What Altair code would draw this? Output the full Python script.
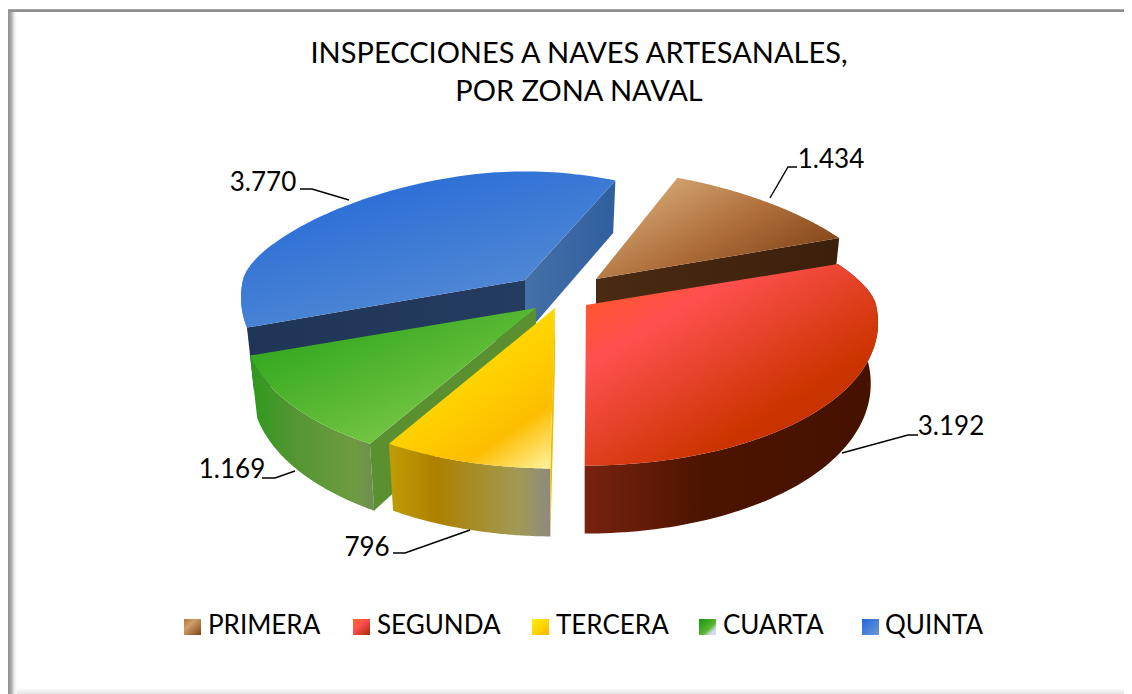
import math
import altair as alt

# ---- data
categories = ["PRIMERA", "SEGUNDA", "TERCERA", "CUARTA", "QUINTA"]
values = [1434, 3192, 796, 1169, 3770]
value_labels = ["1.434", "3.192", "796", "1.169", "3.770"]
title_lines = ["INSPECCIONES A NAVES ARTESANALES,", "POR ZONA NAVAL"]

# ---- layout (page pixels) and style, separate from the data
OX, OY = 8, 8
FONT = "Lato"
START_DEG = 22.9
apex = {"PRIMERA": (596, 279), "SEGUNDA": (586, 305), "TERCERA": (555, 308),
        "CUARTA": (536, 308), "QUINTA": (525, 280)}
radius_x = {"PRIMERA": 280, "SEGUNDA": 290, "TERCERA": 290, "CUARTA": 290, "QUINTA": 282}
RY = 150
# perspective correction of the angle close to some slice corners: (centre degree, shift, half width)
warps = {"PRIMERA": [(22.9, 3.5, 25)], "SEGUNDA": [(183.6, -3.4, 25)], "TERCERA": [(183.6, -2.8, 25)],
         "CUARTA": [], "QUINTA": [(382.9, 6.0, 60)]}
label_pos = {"PRIMERA": (831, 168), "SEGUNDA": (951, 435), "TERCERA": (367, 556),
             "CUARTA": (232, 478), "QUINTA": (263, 191)}
leaders = {"PRIMERA": [(770, 198), (788, 167), (797, 167)],
           "SEGUNDA": [(842, 453), (908, 435), (918, 435)],
           "TERCERA": [(470, 530), (405, 553), (393, 553)],
           "CUARTA": [(295, 471), (275, 478), (262, 478)],
           "QUINTA": [(349, 200), (312, 189), (300, 189)]}
legend_box = {"PRIMERA": 184, "SEGUNDA": 353, "TERCERA": 532, "CUARTA": 699, "QUINTA": 862}
legend_text = {"PRIMERA": 208, "SEGUNDA": 377, "TERCERA": 556, "CUARTA": 723, "QUINTA": 885}


def grad(stops, x1=0.0, y1=0.0, x2=1.0, y2=1.0):
    n = len(stops) - 1
    gs = []
    for i, s in enumerate(stops):
        off, col = s if isinstance(s, tuple) else (i / n, s)
        gs.append(alt.GradientStop(offset=off, color=col))
    return alt.LinearGradient(gradient="linear", stops=gs, x1=x1, y1=y1, x2=x2, y2=y2)


top_fill = {
    "PRIMERA": grad([(0, "#a8743f"), (0.22, "#cf9f6b"), (0.6, "#ad6c39"), (1, "#7f4116")], 0, 0, 1, 0.75),
    "SEGUNDA": grad([(0, "#ff5a1c"), (0.28, "#ff5050"), (0.72, "#cc3400"), (1, "#bb2e00")], 0, 0, 0.9, 1),
    "TERCERA": grad([(0, "#ffe600"), (0.45, "#ffd000"), (0.72, "#fdbd00"), (1, "#fff6a8")], 0.3, 0, 1, 1),
    "CUARTA": grad([(0, "#2ba51b"), (0.5, "#5bb934"), (1, "#90d055")], 0.1, 0.1, 0.9, 1),
    "QUINTA": grad([(0, "#2268d8"), (1, "#5c90d2")], 0.15, 0, 0.8, 1),
}
wall_fill = {
    "PRIMERA": "#46270f",
    "SEGUNDA": grad([(0, "#78220f"), (0.4, "#4c1400"), (1, "#451200")], 0, 0, 1, 0),
    "TERCERA": grad([(0, "#c09d05"), (0.3, "#ad8000"), (0.8, "#a19a55"), (1, "#8f8980")], 0, 0, 1, 0),
    "CUARTA": grad([(0, "#2c9a1c"), (0.35, "#549533"), (0.85, "#6f9b41"), (1, "#6d8e52")], 0, 0, 1, 0),
    "QUINTA": "#4779c4",
}
cut_fill = {
    "PRIMERA": grad([(0, "#4a2a12"), (1, "#3c200c")], 0, 0, 1, 0),
    "TERCERA": "#e8c000",
    "CUARTA": "#5a9030",
    "QUINTA": grad([(0, "#1f3557"), (1, "#243c60")], 0, 0, 1, 0),
}
quinta_side = grad([(0, "#4570a8"), (1, "#2f5f9e")], 0, 0, 1, 0)
legend_fill = {
    "PRIMERA": grad([(0, "#b8763a"), (0.35, "#cf9f6b"), (1, "#80410f")]),
    "SEGUNDA": grad([(0, "#ff6a1c"), (0.4, "#ff5050"), (1, "#a82a00")]),
    "TERCERA": grad([(0, "#ffee00"), (0.6, "#ffd000"), (1, "#fdb000")]),
    "CUARTA": grad([(0, "#0f980c"), (0.6, "#5cb634"), (0.8, "#cfdcf0"), (1, "#cfdcf0")]),
    "QUINTA": grad([(0, "#2268d8"), (1, "#6a98d8")]),
}


# ---- geometry derived from the values
def rim(name, deg):
    d = deg
    for centre, shift, width in warps[name]:
        d += shift * max(0.0, 1 - abs(deg - centre) / width)
    t = math.radians(d)
    s, c = math.sin(t), math.cos(t)
    kx = 0.12 if c <= 0 else 0.12 + 0.34 * c / (c + 0.25)
    ky = 0.276 if c > 0 else 0.07
    ax, ay = apex[name]
    return ax + radius_x[name] * s * (1 - kx * c), ay - RY * c * (1 - ky * c)


def low(name, pt, deg, height=None):
    ax, _ = apex[name]
    c = math.cos(math.radians(deg))
    h = 60 - 8 * c if height is None else height
    return ax + (pt[0] - ax) * 0.975, pt[1] + h


def poly(points):
    pts = [[round(x - OX, 2), round(y - OY, 2)] for x, y in points]
    pts.append(pts[0])
    return {"type": "Feature", "properties": {}, "geometry": {"type": "Polygon", "coordinates": [pts]}}


def line(points):
    pts = [[x - OX, y - OY] for x, y in points]
    return {"type": "Feature", "properties": {}, "geometry": {"type": "LineString", "coordinates": pts}}


PROJ = alt.Projection(type="identity", scale=1, translate=[0, 0])


def shape(feature, fill):
    return (alt.Chart(alt.Data(values=[feature]))
            .mark_geoshape(fill=fill, stroke=None, strokeWidth=0)
            .project(**PROJ.to_dict()))


total = sum(values)
spans = {}
a = START_DEG
for n, v in zip(categories, values):
    b = a + 360 * v / total
    spans[n] = (a, b)
    a = b


def arc_pts(name, end=None):
    a, b = spans[name]
    if end is not None:
        b = end
    steps = 80
    return [(a + (b - a) * i / steps) for i in range(steps + 1)]


def top(name):
    return shape(poly([apex[name]] + [rim(name, d) for d in arc_pts(name)]), top_fill[name])


def wall(name, end=None, height=None):
    ds = arc_pts(name, end)
    up = [rim(name, d) for d in ds]
    dn = [low(name, rim(name, d), d, height) for d in ds]
    return shape(poly(up + dn[::-1]), wall_fill[name])


def cut(name, deg, fill):
    ax, ay = apex[name]
    p = rim(name, deg)
    return shape(poly([(ax, ay), p, low(name, p, deg), (ax, ay + 55)]), fill)


layers = []
# frame
layers.append(shape(poly([(8, 10), (17, 10), (17, 694), (8, 694)]),
                    grad([(0, "#8f8f8f"), (0.35, "#a8a8a8"), (0.7, "#ebebeb"), (1, "#ffffff")], 0, 0, 1, 0)))
layers.append(shape(poly([(8, 9), (1132, 9), (1132, 12), (8, 12)]),
                    grad([(0, "#c4c4c4"), (0.4, "#858585"), (1, "#9a9a9a")], 0, 0, 0, 1)))
layers.append(shape(poly([(17, 688), (1132, 688), (1132, 694), (17, 694)]),
                    grad([(0, "#ffffff"), (1, "#e4e4e4")], 0, 0, 0, 1)))

# slices, back to front
q0, q1 = spans["QUINTA"]
layers += [wall("QUINTA", 285, 31), cut("QUINTA", q1, quinta_side), cut("QUINTA", q0, cut_fill["QUINTA"]), top("QUINTA")]
layers += [cut("PRIMERA", spans["PRIMERA"][1], cut_fill["PRIMERA"]), top("PRIMERA")]
layers += [wall("CUARTA"), cut("CUARTA", spans["CUARTA"][0], cut_fill["CUARTA"]), top("CUARTA")]
layers += [wall("TERCERA"), cut("TERCERA", spans["TERCERA"][0], cut_fill["TERCERA"]), top("TERCERA")]
layers += [wall("SEGUNDA"), top("SEGUNDA")]

# leader lines
for n in categories:
    layers.append(alt.Chart(alt.Data(values=[line(leaders[n])]))
                  .mark_geoshape(fill=None, filled=False, stroke="#000000", strokeWidth=1.4)
                  .project(**PROJ.to_dict()))

# value labels
label_rows = [{"t": value_labels[i], "x": label_pos[n][0] - OX, "y": label_pos[n][1] - OY}
              for i, n in enumerate(categories)]
layers.append(alt.Chart(alt.Data(values=label_rows))
              .mark_text(font=FONT, fontSize=26, baseline="alphabetic", align="center", color="#000000")
              .encode(x=alt.X("x:Q", scale=None), y=alt.Y("y:Q", scale=None), text="t:N"))

# legend
for n in categories:
    x0 = legend_box[n]
    layers.append(shape(poly([(x0, 619), (x0 + 17, 619), (x0 + 17, 635), (x0, 635)]), legend_fill[n]))
legend_rows = [{"t": n, "x": legend_text[n] - OX, "y": 634 - OY} for n in categories]
layers.append(alt.Chart(alt.Data(values=legend_rows))
              .mark_text(font=FONT, fontSize=26, baseline="alphabetic", align="left", color="#000000")
              .encode(x=alt.X("x:Q", scale=None), y=alt.Y("y:Q", scale=None), text="t:N"))

chart = (alt.layer(*layers)
         .properties(width=1116, height=686, padding=0, background="#ffffff",
                     autosize=alt.AutoSizeParams(type="none"),
                     title=alt.TitleParams(text=title_lines, font=FONT, fontSize=29, fontWeight="normal",
                                           color="#000000", anchor="middle", lineHeight=38,
                                           baseline="top", dy=103, dx=13))
         .configure_view(stroke=None))

chart.save("out.html", embed_options={"renderer": "svg", "actions": False})
